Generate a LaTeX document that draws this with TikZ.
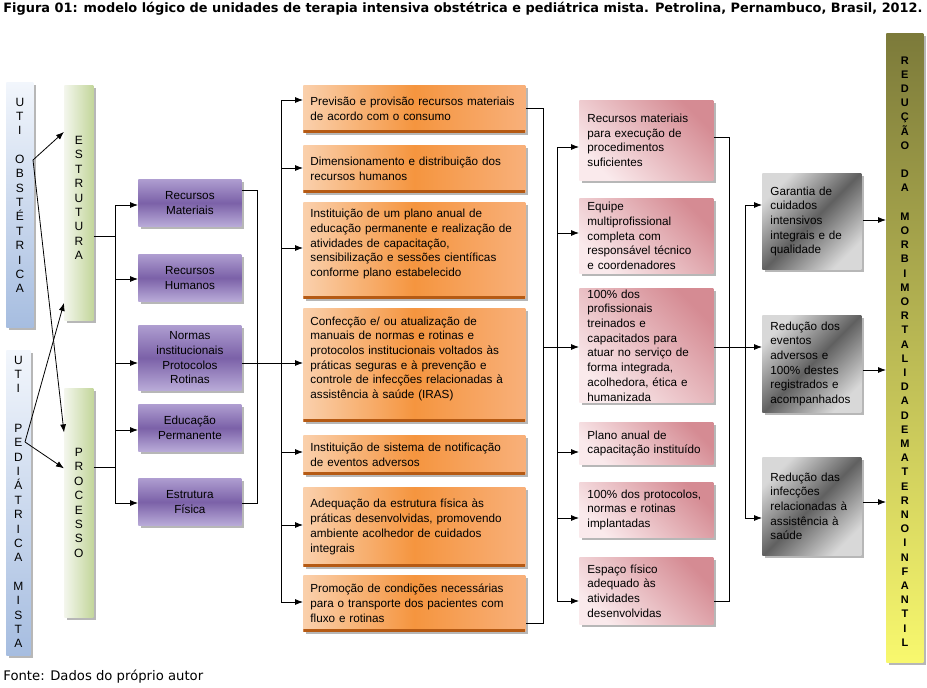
\documentclass[tikz,border=0pt]{standalone}
\usepackage{fontspec}
\setmainfont{Liberation Sans}
\newfontfamily\titlefont{DejaVu Sans}
\usepackage{xcolor}
\usepackage{tikz}
\usetikzlibrary{arrows.meta,shadows}
\hyphenpenalty=10000

\definecolor{utiA}{HTML}{F2F6FC}
\definecolor{utiB}{HTML}{A6BDE0}
\definecolor{eixoA}{HTML}{F3F6EC}
\definecolor{eixoB}{HTML}{C3D69B}
\definecolor{roxoA}{HTML}{AE9DD0}
\definecolor{roxoB}{HTML}{7B61A8}
\definecolor{roxoC}{HTML}{B9ABD8}
\definecolor{larA}{HTML}{FAD0AC}
\definecolor{larB}{HTML}{F5953F}
\definecolor{larC}{HTML}{F8B07A}
\definecolor{larE}{HTML}{B55A14}
\definecolor{rosaA}{HTML}{D58B93}
\definecolor{rosaB}{HTML}{FAEAEC}
\definecolor{cinA}{HTML}{D8D8D8}
\definecolor{cinB}{HTML}{606060}
\definecolor{metaA}{HTML}{7C7A3A}
\definecolor{metaB}{HTML}{F8F86E}

\begin{document}
\begin{tikzpicture}[x=1pt,y=-1pt,
  line width=0.8pt, >={Latex[length=8pt,width=6pt]},
  every node/.style={font=\fontsize{11.7}{14.7}\selectfont},
  caixa/.style={anchor=north west, inner sep=0pt,
    drop shadow={shadow xshift=3pt,shadow yshift=-3pt,opacity=0.4,fill=black!70}},
  uti/.style={caixa, top color=utiA, bottom color=utiB},
  eixo/.style={caixa, left color=eixoA, right color=eixoB},
  meta/.style={caixa, top color=metaA, bottom color=metaB},
  roxo/.style={caixa, top color=roxoA, bottom color=roxoC, middle color=roxoB,
    text width=97pt, align=center, inner xsep=3pt, minimum width=103pt},
  laranja/.style={caixa, left color=larA, right color=larC, middle color=larB,
    text width=208pt, align=left, inner xsep=7pt,
    path picture={\draw[larE, line width=5pt] (path picture bounding box.south west) -- (path picture bounding box.south east);}},
  rosa/.style={caixa, top color=rosaA, bottom color=rosaB, shading angle=-45,
    text width=118pt, align=left, inner xsep=8pt},
  cinza/.style={caixa, top color=cinA, bottom color=cinA, middle color=cinB, shading angle=45,
    text width=83pt, align=left, inner xsep=8pt},
  letras/.style={align=center, inner sep=0pt, font=\fontsize{12}{14.4}\selectfont},
]
\useasboundingbox (0,0) rectangle (927,688);

% Title and source
\node[anchor=west, inner sep=0pt, font=\titlefont\bfseries\fontsize{12.9}{14}\selectfont] (titulo) at (3,9)
  {Figura 01: modelo lógico de unidades de terapia intensiva obstétrica e pediátrica mista. Petrolina, Pernambuco, Brasil, 2012.};
\node[anchor=west, inner sep=0pt, font=\titlefont\fontsize{13.2}{15}\selectfont] (fonte) at (3,677) {Fonte: Dados do próprio autor};

% UTI columns
\node[uti, minimum width=27pt, minimum height=245pt] (uo) at (6,82) {};
\node[uti, minimum width=24pt, minimum height=305pt] (up) at (6,350) {};
\node[letras] (uo-t) at ([yshift=9.5pt]uo.center) {U\\T\\I\\[14pt]O\\B\\S\\T\\É\\T\\R\\I\\C\\A};
\node[letras] (up-t) at ([yshift=1pt]up.center) {U\\T\\I\\[25pt]P\\E\\D\\I\\Á\\T\\R\\I\\C\\A\\[14pt]M\\I\\S\\T\\A};

% Estrutura / Processo
\node[eixo, minimum width=29pt, minimum height=235pt] (est) at (64,85) {};
\node[eixo, minimum width=29pt, minimum height=229pt] (pro) at (64,388) {};
\node[letras] (est-t) at ([yshift=5pt]est.center) {E\\S\\T\\R\\U\\T\\U\\R\\A};
\node[letras] (pro-t) at (pro.center) {P\\R\\O\\C\\E\\S\\S\\O};

% Purple components
\node[roxo, minimum height=47pt] (rm) at (138,179) {Recursos\\Materiais};
\node[roxo, minimum height=47pt] (rh) at (138,254) {Recursos\\Humanos};
\node[roxo, minimum height=65pt] (nr) at (138,325) {Normas\\institucionais\\Protocolos\\Rotinas};
\node[roxo, minimum height=47pt] (ed) at (138,404) {Educação\\Permanente};
\node[roxo, minimum height=47pt] (ef) at (138,478) {Estrutura\\Física};

% Orange activities
\node[laranja, minimum height=47pt] (o1) at (303,85) {Previsão e provisão recursos materiais\\de acordo com o consumo};
\node[laranja, minimum height=47pt] (o2) at (303,145) {Dimensionamento e distribuição dos\\recursos humanos};
\node[laranja, minimum height=96pt] (o3) at (303,202) {Instituição de um plano anual de\\educação permanente e realização de\\atividades de capacitação,\\sensibilização e sessões científicas\\conforme plano estabelecido\\~};
\node[laranja, minimum height=113pt] (o4) at (303,308) {Confecção e/ ou atualização de\\manuais de normas e rotinas e\\protocolos institucionais voltados às\\práticas seguras e à prevenção e\\controle de infecções relacionadas à\\assistência à saúde (IRAS)\\~};
\node[laranja, minimum height=39pt] (o5) at (303,435) {Instituição de sistema de notificação\\de eventos adversos};
\node[laranja, minimum height=79pt] (o6) at (303,487) {Adequação da estrutura física às\\práticas desenvolvidas, promovendo\\ambiente acolhedor de cuidados\\integrais};
\node[laranja, minimum height=56pt] (o7) at (303,575) {Promoção de condições necessárias\\para o transporte dos pacientes com\\fluxo e rotinas};

% Pink results
\node[rosa, minimum height=80pt] (p1) at (579,100) {Recursos materiais\\para execução de\\procedimentos\\suficientes};
\node[rosa, minimum height=75pt] (p2) at (579,198) {Equipe\\multiprofissional\\completa com\\responsável técnico\\e coordenadores};
\node[rosa, minimum height=114pt] (p3) at (579,288) {100\% dos\\profissionais\\treinados e\\capacitados para\\atuar no serviço de\\forma integrada,\\acolhedora, ética e\\humanizada};
\node[rosa, minimum height=42pt] (p4) at (579,422) {Plano anual de\\capacitação instituído};
\node[rosa, minimum height=55pt] (p5) at (579,482) {100\% dos protocolos,\\normas e rotinas\\implantadas};
\node[rosa, minimum height=67pt] (p6) at (579,557) {Espaço físico\\adequado às\\atividades\\desenvolvidas};

% Gray impacts
\node[cinza, minimum height=96pt] (g1) at (762,173) {Garantia de\\cuidados\\intensivos\\integrais e de\\qualidade};
\node[cinza, minimum height=97pt] (g2) at (762,315) {Redução dos\\eventos\\adversos e\\100\% destes\\registrados e\\acompanhados};
\node[cinza, minimum height=98pt] (g3) at (762,457) {Redução das\\infecções\\relacionadas à\\assistência à\\saúde};

% Final goal bar
\node[meta, minimum width=37pt, minimum height=629pt] (red) at (886,33) {};
\node[letras, font=\bfseries\fontsize{11}{14.2}\selectfont] (red-t) at ([yshift=-3.5pt]red.center)
  {R\\E\\D\\U\\Ç\\Ã\\O\\[14.2pt]D\\A\\[14.2pt]M\\O\\R\\B\\I\\M\\O\\R\\T\\A\\L\\I\\D\\A\\D\\E\\M\\A\\T\\E\\R\\N\\O\\I\\N\\F\\A\\N\\T\\I\\L};

% UTI -> Estrutura / Processo
\coordinate (uoA) at (33,160);
\coordinate (upA) at (25,442);
\draw[->] (uoA) -- ([yshift=71pt]est.west);
\draw[->] (uoA) -- ([yshift=70.5pt]pro.west);
\draw[->] (upA) -- ([yshift=-100pt]est.west);
\draw[->] (upA) -- ([yshift=34.5pt]pro.west);

% Estrutura / Processo -> components
\coordinate (b1) at (115,236);
\coordinate (b2) at (115,467);
\draw (est.east |- b1) -- (b1);
\draw (pro.east |- b2) -- (b2);
\foreach \n/\y in {rm/205,rh/279,nr/363,ed/430,ef/503} {
  \coordinate (b-\n) at (115,\y);
  \draw[->] (b-\n) -- (\n.west |- b-\n);
}
\draw (b-rm) -- (b-ef);

% components -> activities
\coordinate (c1) at (257,190);
\coordinate (c2) at (257,503);
\draw (rm.east |- c1) -- (c1) -- (c2) -- (ef.east |- c2);
\foreach \n/\y in {o1/100,o2/168,o3/248,o4/363,o5/452,o6/525,o7/602} {
  \coordinate (c-\n) at (281,\y);
  \draw[->] (c-\n) -- (\n.west |- c-\n);
}
\draw (c-o1) -- (c-o7);
\draw (nr.east |- c-o4) -- (c-o4);

% activities -> results
\coordinate (d1) at (543,108);
\coordinate (d2) at (543,623);
\coordinate (dm) at (543,347);
\draw (o1.east |- d1) -- (d1) -- (d2) -- (o7.east |- d2);
\foreach \n/\y in {p1/147,p2/233,p3/347,p4/452,p5/518,p6/601} {
  \coordinate (d-\n) at (557,\y);
  \draw[->] (d-\n) -- (\n.west |- d-\n);
}
\draw (d-p1) -- (d-p6);
\draw (dm) -- (d-p3);

% results -> impacts
\coordinate (e1) at (729,137);
\coordinate (e2) at (729,601);
\draw (p1.east |- e1) -- (e1) -- (e2) -- (p6.east |- e2);
\foreach \n/\y in {g1/205,g2/347,g3/518} {
  \coordinate (e-\n) at (745,\y);
  \draw[->] (e-\n) -- (\n.west |- e-\n);
}
\draw (e-g1) -- (e-g3);
\draw (p3.east |- e-g2) -- (e-g2);

% impacts -> goal
\foreach \n/\y in {g1/220,g2/370,g3/502} {
  \coordinate (f-\n) at (863,\y);
  \draw[->] (f-\n) -- (red.west |- f-\n);
}
\end{tikzpicture}
\end{document}
